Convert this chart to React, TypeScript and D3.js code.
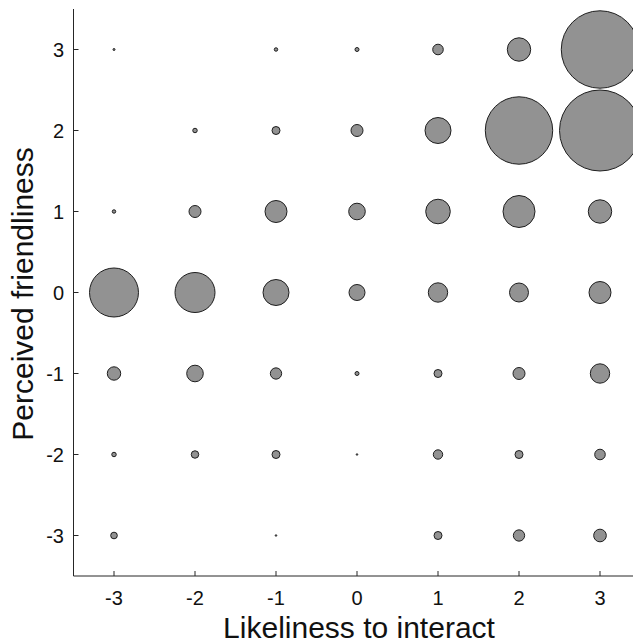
import { useEffect } from "react";
import * as d3 from "d3";

// likeliness to interact (x) and perceived friendliness (y) levels
const xLevels = [-3, -2, -1, 0, 1, 2, 3];
const yLevels = [3, 2, 1, 0, -1, -2, -3];

// counts per cell, one row per friendliness level (top to bottom)
const row3 = [1, 0, 3, 4, 28, 137, 1500];
const row2 = [0, 5, 16, 36, 169, 1136, 1640];
const row1 = [3, 36, 121, 69, 151, 256, 137];
const row0 = [600, 400, 169, 64, 94, 90, 121];
const rowM1 = [45, 69, 32, 4, 16, 36, 94];
const rowM2 = [5, 14, 16, 0.6, 22, 16, 28];
const rowM3 = [11, 0, 0.6, 0, 16, 32, 40];
const rows = [row3, row2, row1, row0, rowM1, rowM2, rowM3];

const tickValues = [-3, -2, -1, 0, 1, 2, 3];

const W = 633;
const H = 644;
const FONT = "'Liberation Sans', Arial, Helvetica, sans-serif";
const AXIS = "#262626";

export default function App() {
  useEffect(() => {
    document.body.style.margin = "0";
  }, []);

  const x = d3.scaleLinear().domain([-3.5, 3.5]).range([73.5, 640.5]);
  const y = d3.scaleLinear().domain([-3.5, 3.5]).range([576, 9]);
  const r = d3.scaleSqrt().domain([0, 1600]).range([0, 40]);

  const cells = rows
    .flatMap((vals, i) => vals.map((v, j) => ({ xv: xLevels[j], yv: yLevels[i], v })))
    .filter((d) => d.v > 0);

  const [x0] = x.range();
  const [y0, y1] = y.range();

  return (
    <svg width={W} height={H} style={{ display: "block", background: "#fff" }}>
      <defs>
        <clipPath id="plot">
          <rect x={x0} y={y1} width={W - x0} height={y0 - y1} />
        </clipPath>
      </defs>

      <g clipPath="url(#plot)">
        {cells.map((d, i) => (
          <circle
            key={i}
            cx={x(d.xv)}
            cy={y(d.yv)}
            r={r(d.v)}
            fill="#929292"
            stroke="#1e1e1e"
            strokeWidth={1}
          />
        ))}
      </g>

      {/* axes, ticks pointing inward */}
      <line x1={x0} x2={x0} y1={y1} y2={y0} stroke={AXIS} strokeWidth={1} />
      <line x1={x0} x2={W} y1={y0} y2={y0} stroke={AXIS} strokeWidth={1} />

      {tickValues.map((t) => (
        <g key={"x" + t}>
          <line x1={x(t)} x2={x(t)} y1={y0} y2={y0 - 5} stroke={AXIS} />
          <text x={x(t)} y={605} textAnchor="middle" fontFamily={FONT} fontSize={20} fill="#111">
            {t}
          </text>
        </g>
      ))}

      {tickValues.map((t) => (
        <g key={"y" + t}>
          <line x1={x0} x2={x0 + 5} y1={y(t)} y2={y(t)} stroke={AXIS} />
          <text
            x={64}
            y={y(t)}
            dy="0.36em"
            textAnchor="end"
            fontFamily={FONT}
            fontSize={20}
            fill="#111"
          >
            {t}
          </text>
        </g>
      ))}

      <text x={359} y={638} textAnchor="middle" fontFamily={FONT} fontSize={30} fill="#111">
        Likeliness to interact
      </text>
      <text
        transform={`translate(33, 294) rotate(-90)`}
        textAnchor="middle"
        fontFamily={FONT}
        fontSize={30}
        fill="#111"
      >
        Perceived friendliness
      </text>
    </svg>
  );
}
